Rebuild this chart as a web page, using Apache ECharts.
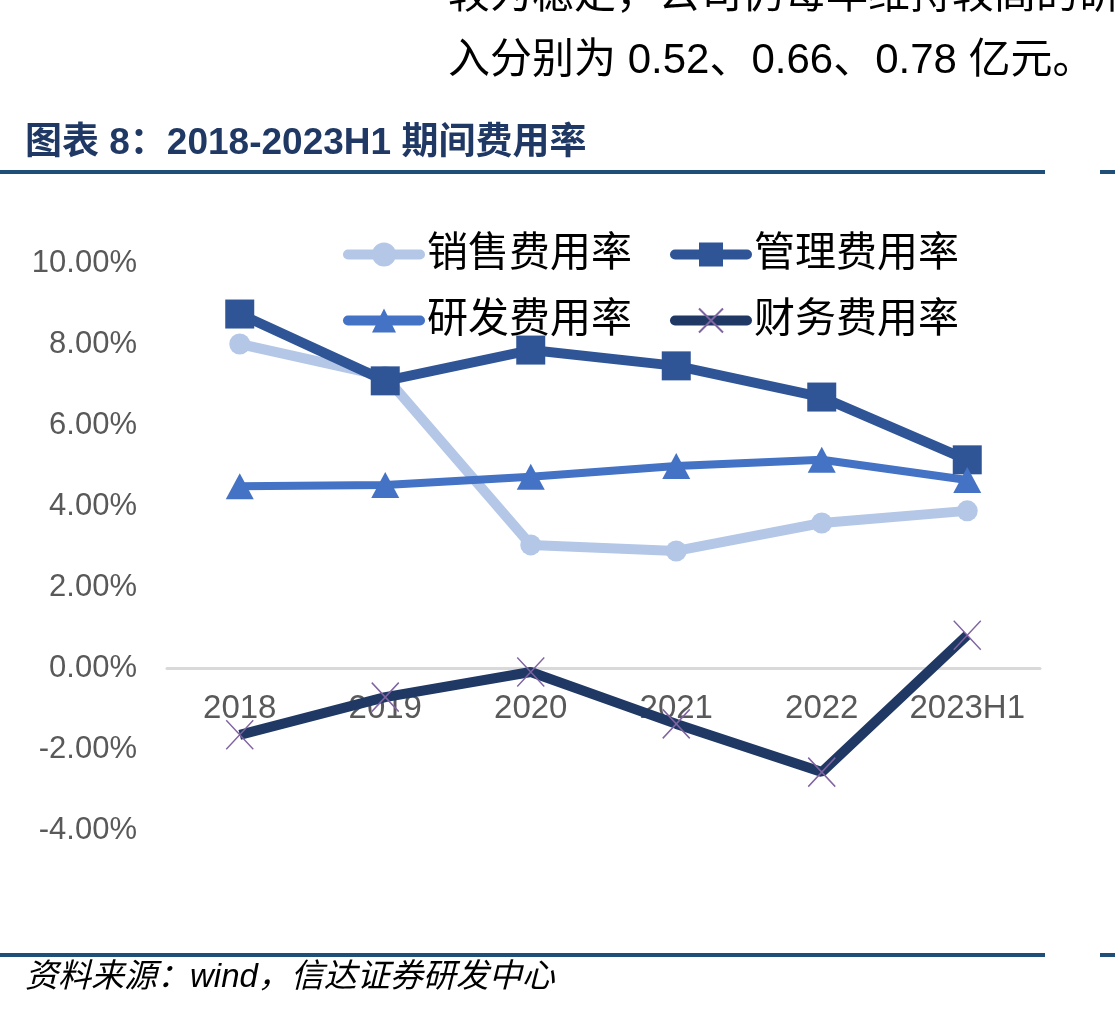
<!DOCTYPE html>
<html>
<head>
<meta charset="utf-8">
<script src="https://cdn.jsdelivr.net/npm/echarts@6/dist/echarts.min.js"></script>
<style>
  html, body { margin: 0; padding: 0; background: #fff; }
  #container { width: 1115px; height: 1013px; }
</style>
</head>
<body>
<div id="container"></div>
<script>
var dom = document.getElementById('container');
var myChart = echarts.init(dom, null, { renderer: 'canvas' });

// 横轴年份
var years = ['2018', '2019', '2020', '2021', '2022', '2023H1'];
// 各项费用率 (%)
var salesRate = [8.0, 7.2, 3.04, 2.89, 3.58, 3.88];
var adminRate = [8.74, 7.09, 7.85, 7.46, 6.69, 5.14];
var rdRate = [4.49, 4.52, 4.72, 4.99, 5.14, 4.64];
var finRate = [-1.65, -0.72, -0.10, -1.38, -2.57, 0.81];
var yTicks = [-4, -2, 0, 2, 4, 6, 8, 10];

var crossPath = 'path://M0,0L10,10M10,0L0,10';
var cjk = '"Liberation Sans", Arial, "Noto Sans CJK SC", sans-serif';

var legendCommon = {
    left: 338,
    itemWidth: 72, itemHeight: 30, itemGap: 38,
    lineStyle: { width: 10, cap: 'round' },
    textStyle: { fontSize: 41, color: '#000', fontFamily: cjk, padding: [0, 0, 0, 2] }
};

var option = {
    backgroundColor: '#fff',
    animation: false,
    grid: { left: 167, right: 75, top: 263, bottom: 1013 - 830 },
    legend: [
        Object.assign({ top: 229, data: ['销售费用率', '管理费用率'] }, legendCommon),
        Object.assign({ top: 295, data: ['研发费用率', '财务费用率'] }, legendCommon)
    ],
    xAxis: {
        type: 'category',
        data: years,
        boundaryGap: true,
        position: 'bottom',
        offset: -(830 - 668),
        axisLine: { onZero: false, lineStyle: { color: '#d9d9d9', width: 3 } },
        axisTick: { show: false },
        axisLabel: { color: '#595959', fontSize: 33, margin: 24, interval: 0, fontFamily: cjk }
    },
    yAxis: {
        type: 'value',
        min: yTicks[0], max: yTicks[yTicks.length - 1], interval: 2,
        axisLine: { show: false },
        axisTick: { show: false },
        splitLine: { show: false },
        axisLabel: {
            color: '#595959', fontSize: 31, margin: 30, fontFamily: cjk,
            formatter: function (v) { return v.toFixed(2) + '%'; }
        }
    },
    series: [{
        name: '销售费用率', type: 'line', data: salesRate,
        symbol: 'circle', symbolSize: 21,
        lineStyle: { color: '#b4c7e7', width: 10 },
        itemStyle: { color: '#b4c7e7' }
    }, {
        name: '管理费用率', type: 'line', data: adminRate,
        symbol: 'rect', symbolSize: 29,
        lineStyle: { color: '#2f5597', width: 10 },
        itemStyle: { color: '#2f5597' }
    }, {
        name: '研发费用率', type: 'line', data: rdRate,
        symbol: 'triangle', symbolSize: [28, 26],
        lineStyle: { color: '#4472c4', width: 8 },
        itemStyle: { color: '#4472c4' }
    }, {
        name: '财务费用率', type: 'line', data: finRate,
        symbol: crossPath, symbolSize: [27, 29],
        lineStyle: { color: '#203864', width: 10 },
        itemStyle: { color: '#203864', borderColor: '#8064a2', borderWidth: 1.5 }
    }],
    graphic: [{
        type: 'text', left: 448, top: -25,
        style: { text: '较为稳定，公司仍每年维持较高的研发', fontSize: 42, fill: '#000', fontFamily: cjk }
    }, {
        type: 'text', left: 448, top: 40,
        style: { text: '入分别为 0.52、0.66、0.78 亿元。', fontSize: 42, fill: '#000', fontFamily: cjk }
    }, {
        type: 'text', left: 25, top: 125,
        style: { text: '图表 8：2018-2023H1 期间费用率', fontSize: 37, fontWeight: 'bold', fill: '#1f3864', fontFamily: cjk }
    }, {
        type: 'rect', shape: { x: 0, y: 170, width: 1045, height: 4 }, style: { fill: '#1f4e79' }
    }, {
        type: 'rect', shape: { x: 1100, y: 170, width: 15, height: 4 }, style: { fill: '#1f4e79' }
    }, {
        type: 'rect', shape: { x: 0, y: 953, width: 1045, height: 4 }, style: { fill: '#1f4e79' }
    }, {
        type: 'rect', shape: { x: 1100, y: 953, width: 15, height: 4 }, style: { fill: '#1f4e79' }
    }, {
        type: 'text', left: 25, top: 961,
        style: { text: '资料来源：wind，信达证券研发中心', fontSize: 33, fontStyle: 'italic', fill: '#000', fontFamily: cjk }
    }]
};

myChart.setOption(option);
</script>
</body>
</html>
